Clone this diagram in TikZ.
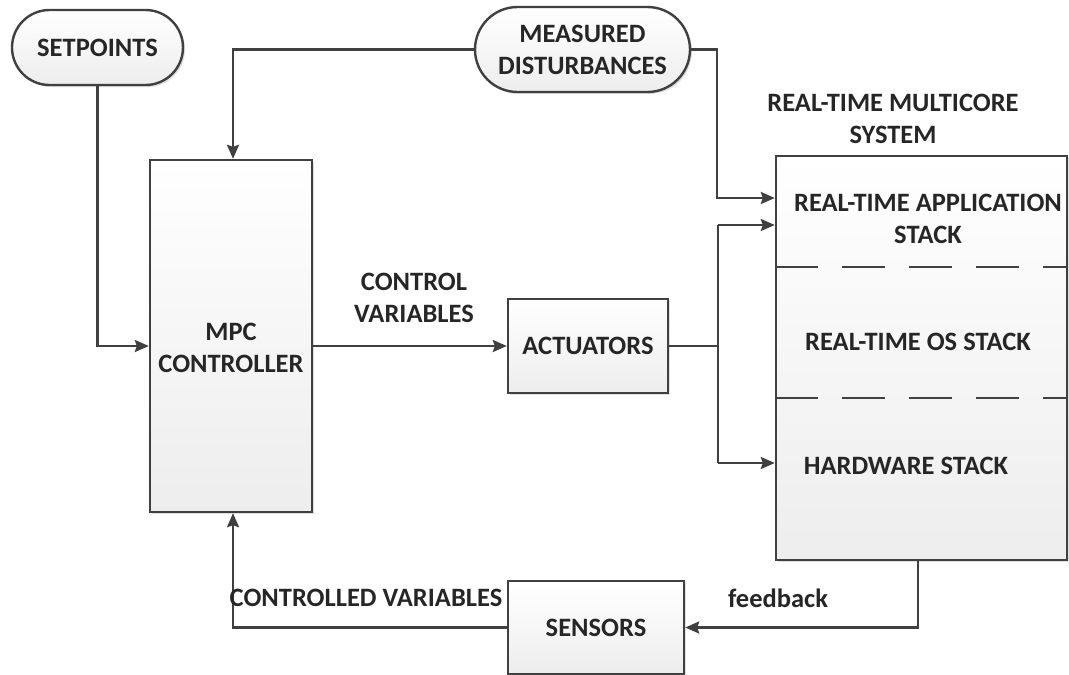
\documentclass[tikz,border=0pt]{standalone}
\usepackage{fontspec}
\setmainfont{Carlito}
\usetikzlibrary{arrows.meta,shadows,shapes.misc}
\definecolor{linec}{HTML}{404040}
\definecolor{textc}{HTML}{262626}
\begin{document}
\begin{tikzpicture}[x=1pt,y=-1pt,
  txt/.style={font=\bfseries\fontsize{26.5}{32}\selectfont, text=textc, align=center, inner sep=0pt},
  line/.style={draw=linec, line width=2.4pt},
  arr/.style={line, -{Stealth[length=14pt,width=12pt,inset=2pt]}},
  box/.style={txt, draw=linec, line width=2.4pt, top color=white, bottom color=gray!14,
    drop shadow={shadow xshift=2pt, shadow yshift=-2pt, fill=black!25, opacity=0.5}},
  term/.style={box, rounded rectangle},
  divider/.style={draw=linec, line width=2pt, dash pattern=on 43pt off 24pt}]
\useasboundingbox (0,0) rectangle (1069,675);

% terminals
\node[term, minimum width=171pt, minimum height=75pt] (set) at (97.5,47.5) {SETPOINTS};
\node[term, minimum width=215pt, minimum height=85pt] (md) at (582.5,49.5) {MEASURED\\DISTURBANCES};

% blocks
\node[box, minimum width=162pt, minimum height=352pt] (mpc) at (231,336) {};
\node[txt] (mpct) at (231,348) {MPC\\CONTROLLER};
\node[box, minimum width=160pt, minimum height=94pt] (act) at (588,346) {ACTUATORS};
\node[box, minimum width=176pt, minimum height=93pt] (sen) at (596,627.5) {SENSORS};
\node[box, minimum width=291pt, minimum height=404pt] (rt) at (921.5,358) {};

% layers of the multicore system
\draw[divider] (rt.west |- 0,267) -- (rt.east |- 0,267);
\draw[divider] (rt.west |- 0,398) -- (rt.east |- 0,398);
\node[txt] (rtt) at (893,119) {REAL-TIME MULTICORE\\SYSTEM};
\node[txt] (app) at (928,219) {REAL-TIME APPLICATION\\STACK};
\node[txt] (os) at (918,342) {REAL-TIME OS STACK};
\node[txt] (hw) at (906,466) {HARDWARE STACK};

% connectors
\coordinate (mdT) at (717,198);
\coordinate (busT) at (718,225);
\coordinate (busB) at (718,463);
\coordinate (fb) at (918,628);

\draw[arr] (set.south) |- (mpc.west |- act.west);
\draw[arr] (md.west) -| ([xshift=2pt]mpc.north);
\draw[arr] (md.east) -| (mdT) -- (rt.west |- mdT);
\draw[arr] (mpc.east |- act.west) -- (act.west);
\draw[line] (act.east) -- (act.east -| busT);
\draw[line] (busT) -- (busB);
\draw[arr] (busT) -- (rt.west |- busT);
\draw[arr] (busB) -- (rt.west |- busB);
\draw[arr] (rt.south -| fb) |- (sen.east);
\draw[arr] (sen.west) -| ([xshift=2pt]mpc.south);

% connector labels
\node[txt] (cv) at (414,298) {CONTROL\\VARIABLES};
\node[txt] (cdv) at (366,598) {CONTROLLED VARIABLES};
\node[txt] (fbl) at (778,598) {feedback};
\end{tikzpicture}
\end{document}
